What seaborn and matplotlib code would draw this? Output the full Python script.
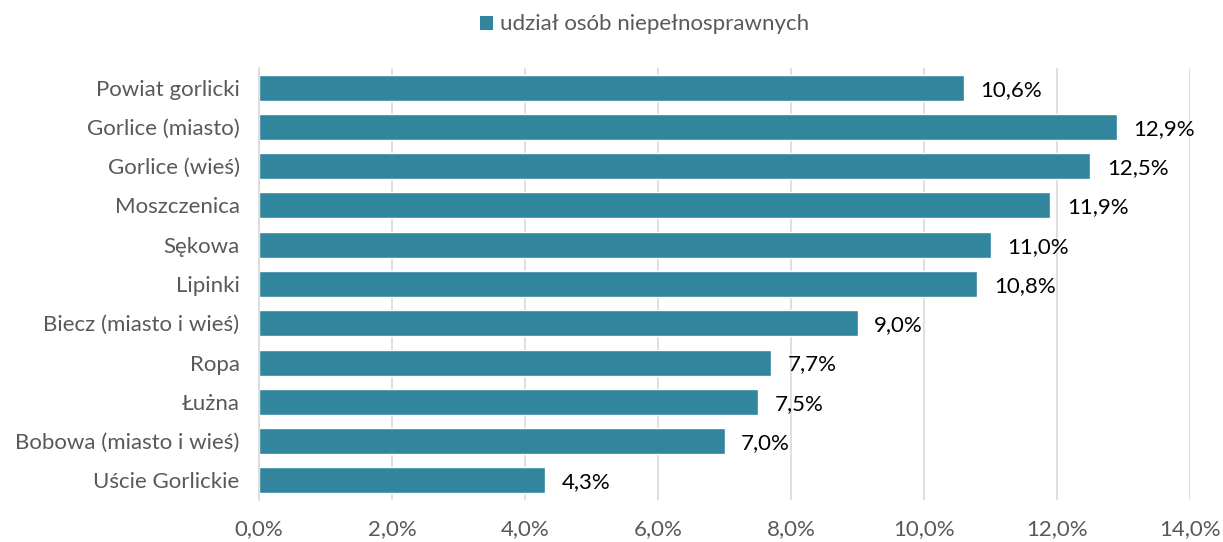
import matplotlib
matplotlib.use('Agg')
import matplotlib.pyplot as plt
import seaborn as sns
import pandas as pd
from matplotlib.patches import Patch

# Data
gminy = ['Powiat gorlicki', 'Gorlice (miasto)', 'Gorlice (wieś)', 'Moszczenica', 'Sękowa',
         'Lipinki', 'Biecz (miasto i wieś)', 'Ropa', 'Łużna', 'Bobowa (miasto i wieś)',
         'Uście Gorlickie']
udzial = [10.6, 12.9, 12.5, 11.9, 11.0, 10.8, 9.0, 7.7, 7.5, 7.0, 4.3]
xticks = [0, 2, 4, 6, 8, 10, 12, 14]

df = pd.DataFrame({'gmina': gminy, 'udzial': udzial})

sns.set_style('white')
plt.rcParams['font.family'] = ['Lato', 'DejaVu Sans']
color = '#31859C'
fs = 16

fig = plt.figure(figsize=(12.23, 5.42), dpi=100)
ax = fig.add_axes([259 / 1223, 42 / 542, 931 / 1223, 432 / 542])

sns.barplot(data=df, x='udzial', y='gmina', color=color, width=0.66, ax=ax, saturation=1)

for i, v in enumerate(udzial):
    ax.text(v + 0.25, i + 0.05, f'{v:.1f}%'.replace('.', ','), va='center', ha='left',
            fontsize=fs, color='black')

ax.set_xlim(0, 14)
ax.set_xticks(xticks)
ax.set_xticklabels([f'{t:.1f}%'.replace('.', ',') for t in xticks], fontsize=fs, color='#595959')
ax.tick_params(axis='y', labelsize=fs, labelcolor='#595959', length=0, pad=14)
ax.tick_params(axis='x', length=0, pad=14)
ax.xaxis.grid(True, color='#D9D9D9', linewidth=1.2)
ax.set_axisbelow(True)
for s in ['top', 'right', 'bottom']:
    ax.spines[s].set_visible(False)
ax.spines['left'].set_color('#D9D9D9')
ax.spines['left'].set_linewidth(1.2)
ax.set_xlabel('')
ax.set_ylabel('')

handle = Patch(facecolor=color, edgecolor='none')
fig.legend([handle], ['udział osób niepełnosprawnych'], loc='center', bbox_to_anchor=(0.527, 0.955),
           frameon=False, fontsize=fs, handlelength=0.6, handleheight=0.6, handletextpad=0.3,
           labelcolor='#595959')

fig.savefig('out.png', dpi=100)
